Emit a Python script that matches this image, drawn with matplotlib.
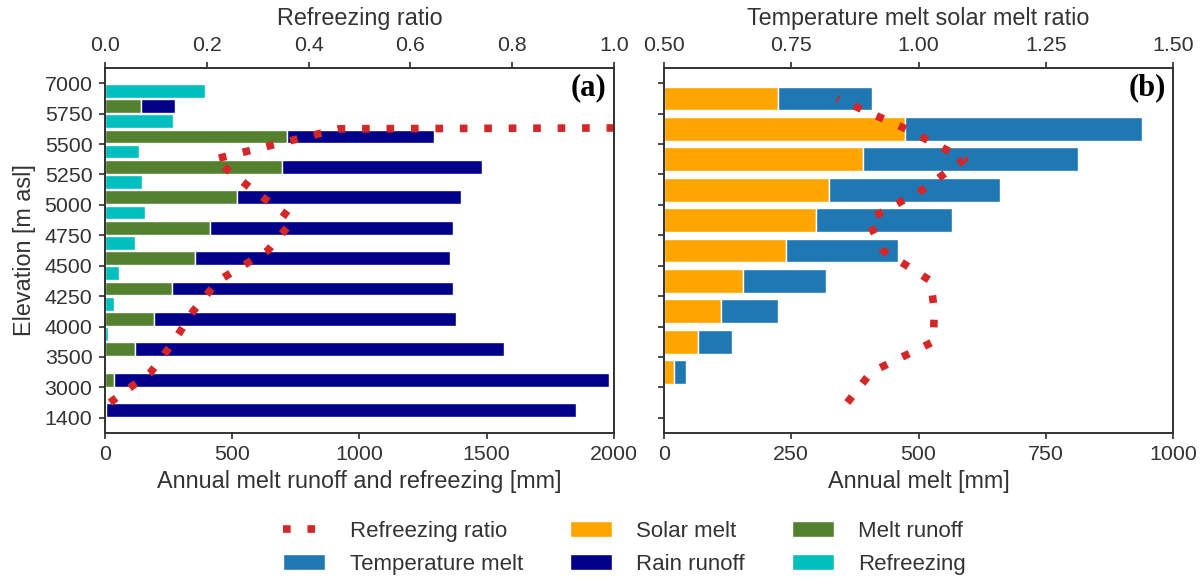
import matplotlib
matplotlib.use("Agg")
import matplotlib.pyplot as plt
import numpy as np
from matplotlib.patches import Patch
from matplotlib.lines import Line2D

# elevation band boundaries (top to bottom)
elev_labels = ["7000", "5750", "5500", "5250", "5000", "4750",
               "4500", "4250", "4000", "3500", "3000", "1400"]

# panel (a): per band, top band first [mm]
refreezing = [394, 268, 133, 147, 156, 117, 56, 34, 11, 0, 0]
melt_runoff = [142, 714, 694, 519, 413, 354, 262, 193, 118, 36, 5]
rain_runoff = [134, 580, 788, 881, 956, 1001, 1107, 1185, 1449, 1944, 1847]
refreezing_ratio = [20.0, 0.46, 0.215, 0.29, 0.37, 0.32, 0.222, 0.173, 0.135, 0.09, 0.01]

# panel (b): per band [mm]
solar_melt = [223, 473, 390, 325, 299, 240, 156, 111, 66, 20, 0]
temp_melt = [185, 466, 424, 335, 267, 220, 162, 112, 68, 24, 0]
temp_solar_ratio = [0.84, 0.975, 1.09, 1.008, 0.90, 0.93, 1.024, 1.031, 1.029, 0.907, 0.86]

C_REFR = "#00bfbf"
C_MELT = "#548130"
C_RAIN = "#000088"
C_SOLAR = "#ffa500"
C_TEMP = "#1f77b4"
C_RATIO = "#d62728"
TXT = "#333333"

plt.rcParams["font.family"] = ["Liberation Sans", "DejaVu Sans"]
plt.rcParams["text.color"] = TXT
plt.rcParams["axes.labelcolor"] = TXT
plt.rcParams["xtick.color"] = TXT
plt.rcParams["ytick.color"] = TXT
plt.rcParams["axes.edgecolor"] = TXT
plt.rcParams["axes.linewidth"] = 1.25

LABEL_FS = 16.8
TICK_FS = 15.4
RATIO_STYLE = dict(color=C_RATIO, linewidth=5.5, linestyle=(0, (1, 2.2)))

fig = plt.figure(figsize=(12.01, 5.78), dpi=100)
ax_a = fig.add_axes([0.0874, 0.2509, 0.4238, 0.6315])
ax_b = fig.add_axes([0.5529, 0.2509, 0.4238, 0.6315], sharey=ax_a)

band = np.arange(len(refreezing))
mid = band + 0.5
bar_kw = dict(edgecolor="white", linewidth=1)

# panel (a)
ax_a.barh(band + 0.25, refreezing, height=0.45, color=C_REFR, **bar_kw)
ax_a.barh(band + 0.75, melt_runoff, height=0.45, color=C_MELT, **bar_kw)
ax_a.barh(band + 0.75, rain_runoff, height=0.45, left=melt_runoff, color=C_RAIN, **bar_kw)
ax_a.set_xlim(0, 2000)
ax_a.set_ylim(len(elev_labels) - 0.5, -0.5)
ax_a.set_yticks(np.arange(len(elev_labels)))
ax_a.set_yticklabels(elev_labels)
ax_a.set_xticks([0, 500, 1000, 1500, 2000])
ax_a.set_xlabel("Annual melt runoff and refreezing [mm]", fontsize=LABEL_FS, labelpad=4)
ax_a.set_ylabel("Elevation [m asl]", fontsize=LABEL_FS, labelpad=6)

# ratio lines are drawn from the lowest band upwards
ta = ax_a.twiny()
ta.plot(refreezing_ratio[::-1], mid[::-1], **RATIO_STYLE)
ta.set_xlim(0, 1)
ta.set_xticks([0.0, 0.2, 0.4, 0.6, 0.8, 1.0])
ta.set_xticklabels(["0.0", "0.2", "0.4", "0.6", "0.8", "1.0"])
ta.set_xlabel("Refreezing ratio", fontsize=LABEL_FS, labelpad=8)

# panel (b)
ax_b.barh(mid, solar_melt, height=0.78, color=C_SOLAR, **bar_kw)
ax_b.barh(mid, temp_melt, height=0.78, left=solar_melt, color=C_TEMP, **bar_kw)
ax_b.set_xlim(0, 1000)
ax_b.set_xticks([0, 250, 500, 750, 1000])
ax_b.set_xlabel("Annual melt [mm]", fontsize=LABEL_FS, labelpad=4)
ax_b.tick_params(axis="y", labelleft=False)

tb = ax_b.twiny()
tb.plot(temp_solar_ratio[::-1], mid[::-1], **RATIO_STYLE)
tb.set_xlim(0.5, 1.5)
tb.set_xticks([0.5, 0.75, 1.0, 1.25, 1.5])
tb.set_xticklabels(["0.50", "0.75", "1.00", "1.25", "1.50"])
tb.set_xlabel("Temperature melt solar melt ratio", fontsize=LABEL_FS, labelpad=8)

for ax in (ax_a, ax_b, ta, tb):
    ax.tick_params(direction="out", length=4, width=1.25, labelsize=TICK_FS, pad=5)

ax_a.text(0.986, 0.945, "(a)", transform=ax_a.transAxes, ha="right", va="center",
          fontsize=22, fontweight="bold", family="Liberation Serif", color="black", zorder=10)
tb.text(0.986, 0.945, "(b)", transform=ax_b.transAxes, ha="right", va="center",
        fontsize=22, fontweight="bold", family="Liberation Serif", color="black", zorder=10)

handles = [
    Line2D([], [], **RATIO_STYLE),
    Patch(facecolor=C_TEMP, edgecolor="white"),
    Patch(facecolor=C_SOLAR, edgecolor="white"),
    Patch(facecolor=C_RAIN, edgecolor="white"),
    Patch(facecolor=C_MELT, edgecolor="white"),
    Patch(facecolor=C_REFR, edgecolor="white"),
]
labels = ["Refreezing ratio", "Temperature melt", "Solar melt",
          "Rain runoff", "Melt runoff", "Refreezing"]
fig.legend(handles, labels, ncol=3, loc="center", bbox_to_anchor=(0.52, 0.052),
           frameon=False, fontsize=16, handlelength=1.9, handletextpad=1.1,
           columnspacing=2.1, labelspacing=0.55)

fig.savefig("out.png", dpi=100)
